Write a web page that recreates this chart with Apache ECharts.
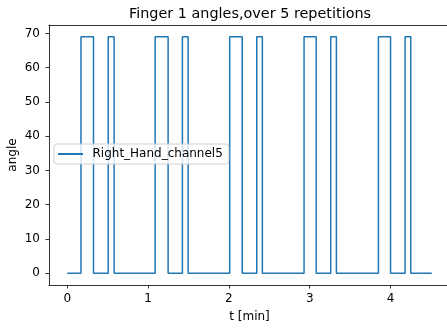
<!DOCTYPE html>
<html>
<head>
<meta charset="utf-8" />
<title></title>
<script src="https://cdn.jsdelivr.net/npm/echarts@6/dist/echarts.min.js"></script>
</head>
<body>
<div id="main" style="width: 447px; height: 331px;"></div>
</body>
<style>
	body{
		padding: 0px;
		margin: 0px;
	}
</style>
<script type="text/javascript">
// transition times (min) and the angle held from each time onward
var tMin = [0, 0.17, 0.325, 0.507, 0.58, 1.088, 1.248, 1.425, 1.496, 2.01, 2.165, 2.345, 2.414, 2.93, 3.08, 3.26, 3.33, 3.85, 4.0, 4.18, 4.25, 4.51]
var angle = [0, 69, 0, 69, 0, 69, 0, 69, 0, 69, 0, 69, 0, 69, 0, 69, 0, 69, 0, 69, 0, 0]
var xTicks = [0, 1, 2, 3, 4]
var yTicks = [0, 10, 20, 30, 40, 50, 60, 70]

var pts = tMin.map(function (t, i) { return [t, angle[i]] })

var font = 'DejaVu Sans'
var axisCol = '#000'
var mychart = echarts.init(document.getElementById('main'))
mychart.setOption({
	animation: false,
	title: {
		text: 'Finger 1 angles,over 5 repetitions',
		left: 245,
		top: 2,
		textAlign: 'center',
		textStyle: { fontFamily: font, fontSize: 14.4, fontWeight: 'normal', color: '#000' }
	},
	grid: {
		left: 49,
		top: 25,
		width: 401,
		height: 260,
		containLabel: false,
		outerBoundsMode: 'none'
	},
	legend: {
		left: 54,
		top: 144,
		orient: 'vertical',
		data: ['Right_Hand_channel5'],
		icon: 'rect',
		itemWidth: 25,
		itemHeight: 2,
		padding: [4, 6, 4, 4],
		borderColor: '#d0d0d0',
		borderWidth: 1,
		borderRadius: 3,
		backgroundColor: 'rgba(255,255,255,0.8)',
		textStyle: { fontFamily: font, fontSize: 12, color: '#000', padding: [0, 0, 0, 4.5] }
	},
	xAxis: [
		{
			type: 'value',
			min: -0.2255,
			max: 4.7355,
			name: 't [min]',
			nameLocation: 'middle',
			nameGap: 26,
			nameMoveOverlap: false,
			nameTextStyle: { fontFamily: font, fontSize: 12, color: '#000' },
			splitLine: { show: false },
			axisLine: { show: true, onZero: false, lineStyle: { color: axisCol, width: 0.8 } },
			axisTick: { show: true, length: 3.5, customValues: xTicks, lineStyle: { color: axisCol, width: 0.8 } },
			axisLabel: { customValues: xTicks, margin: 8, fontFamily: font, fontSize: 12, color: '#000' }
		},
		{
			// top spine
			type: 'value',
			position: 'top',
			min: -0.2255,
			max: 4.7355,
			splitLine: { show: false },
			axisLine: { show: true, onZero: false, lineStyle: { color: axisCol, width: 0.8 } },
			axisTick: { show: false },
			axisLabel: { show: false }
		}
	],
	yAxis: {
		type: 'value',
		min: -3.45,
		max: 72.45,
		name: 'angle',
		nameLocation: 'middle',
		nameGap: 30,
		nameMoveOverlap: false,
		nameTextStyle: { fontFamily: font, fontSize: 12, color: '#000' },
		splitLine: { show: false },
		axisLine: { show: true, onZero: false, lineStyle: { color: axisCol, width: 0.8 } },
		axisTick: { show: true, length: 3.5, customValues: yTicks, lineStyle: { color: axisCol, width: 0.8 } },
		axisLabel: { customValues: yTicks, margin: 9, fontFamily: font, fontSize: 12, color: '#000' }
	},
	series: [
		{
			name: 'Right_Hand_channel5',
			type: 'line',
			step: 'end',
			data: pts,
			showSymbol: false,
			color: '#1f77b4',
			lineStyle: { width: 1.5 }
		}
	]
})
</script>
</html>
